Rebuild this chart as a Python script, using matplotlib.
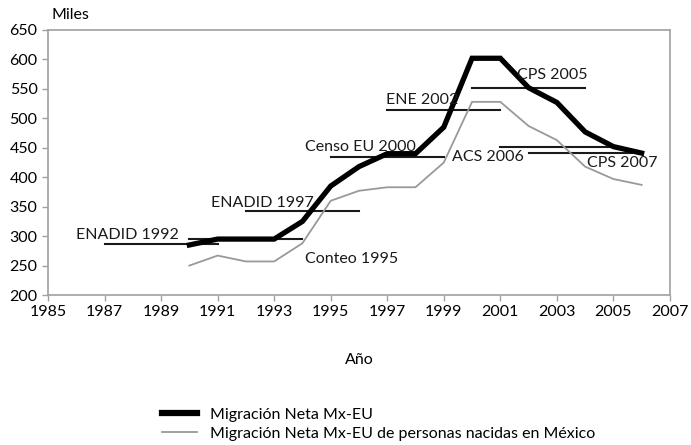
import matplotlib
matplotlib.use("Agg")
import matplotlib.pyplot as plt

plt.rcParams['font.family'] = ['Lato', 'DejaVu Sans']

years = [1990, 1991, 1992, 1993, 1994, 1995, 1996, 1997, 1998,
         1999, 2000, 2001, 2002, 2003, 2004, 2005, 2006]
neta = [285, 295, 295, 295, 325, 385, 418, 440, 440,
        485, 602, 602, 552, 527, 477, 452, 441]
nacidos = [250, 267, 257, 257, 288, 360, 377, 383, 383,
           425, 528, 528, 487, 463, 418, 397, 387]

# survey reference periods: (label, start, end, level)
survey_names = ["ENADID 1992", "Conteo 1995", "ENADID 1997", "Censo EU 2000",
                "ENE 2002", "CPS 2005", "ACS 2006", "CPS 2007"]
survey_start = [1987, 1990, 1992, 1995, 1997, 2000, 2001, 2002]
survey_end = [1991, 1994, 1996, 1999, 2001, 2004, 2005, 2006]
survey_level = [287, 295, 343, 434, 514, 552, 451, 441]
# label anchor (x, y) in data units, left-aligned
label_x = [1986.0, 1994.1, 1990.75, 1994.1, 1996.95, 2001.6, 1999.3, 2004.05]
label_y = [302, 262, 356, 452, 531, 574, 434, 424]

grey = "#a0a0a0"

fig = plt.figure(figsize=(6.91, 4.45), dpi=100)
ax = fig.add_axes([0.0695, 0.337, 0.9, 0.5956])

for name, x0, x1, lvl, lx, ly in zip(survey_names, survey_start, survey_end,
                                     survey_level, label_x, label_y):
    ax.plot([x0, x1], [lvl, lvl], color="#1a1a1a", lw=1.5, zorder=2)
    ax.text(lx, ly, name, fontsize=11.5, color="#1a1a1a", ha="left", va="center", zorder=4)

ax.plot(years, nacidos, color="#999999", lw=1.3, zorder=3,
        label="Migración Neta Mx-EU de personas nacidas en México")
ax.plot(years, neta, color="black", lw=3.8, zorder=3, solid_joinstyle="miter",
        label="Migración Neta Mx-EU")

ax.set_xlim(1985, 2007)
ax.set_ylim(200, 650)
ax.set_xticks(range(1985, 2008, 2))
ax.set_yticks(range(200, 651, 50))
ax.tick_params(labelsize=11.5, color=grey, length=4, width=1, direction="out")
for sp in ax.spines.values():
    sp.set_color(grey)
    sp.set_linewidth(1.2)

ax.set_xlabel("Año", fontsize=11.5, labelpad=24)
ax.text(0.006, 1.03, "Miles", transform=ax.transAxes, fontsize=11.5, ha="left", va="bottom")

handles, labels = ax.get_legend_handles_labels()
leg = ax.legend(handles[::-1], labels[::-1], loc="upper left", bbox_to_anchor=(0.16, -0.37),
                frameon=False, fontsize=11.5, handlelength=2.2, handletextpad=0.8,
                labelspacing=0.3)
leg.get_lines()[0].set_linewidth(4.5)

fig.savefig("out.png", dpi=100)
